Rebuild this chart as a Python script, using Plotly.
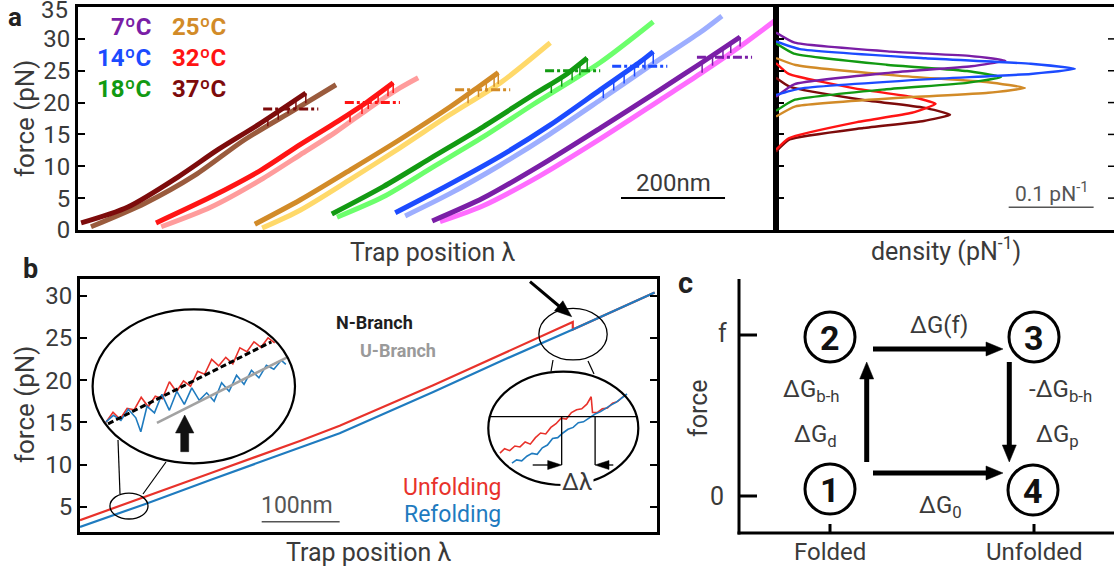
import plotly.graph_objects as go

W, H = 1114, 575
FONT = "Roboto"
INK = "#3a3a3a"

# ---------------- panel a: pulling cycles at six temperatures ----------------
temp_labels = ["7ºC", "14ºC", "18ºC", "25ºC", "32ºC", "37ºC"]
dark_colors = ["#7a1ea6", "#1c4bff", "#129a12", "#d28b28", "#ff1414", "#7d0b0b"]
light_colors = ["#ff6cff", "#9daeff", "#6cff6c", "#ffd96a", "#ff9c9c", "#9a5b3d"]

# unfolding (dark) and refolding (light) traces: trap position (nm), force (pN)
unf07_nm = [681, 779, 888, 1004, 1119, 1196, 1273]
unf07_pN = [1.4, 5.0, 10.1, 16.0, 22.0, 26.1, 30.3]
ref07_nm = [696, 779, 888, 1004, 1119, 1196, 1273, 1342]
ref07_pN = [1.3, 3.8, 8.5, 14.3, 20.4, 24.5, 28.8, 33.0]
hop07_nm = [1200, 1220, 1240, 1255, 1273]
hop07_hi = [26.3, 27.4, 28.5, 29.3, 30.3]
hop07_lo = [24.7, 25.8, 26.9, 27.8, 28.8]

unf14_nm = [610, 683, 812, 908, 1004, 1081, 1106]
unf14_pN = [2.7, 5.8, 11.6, 16.5, 22.0, 26.4, 28.0]
ref14_nm = [629, 715, 812, 908, 1004, 1100, 1196, 1238]
ref14_pN = [2.2, 5.7, 10.2, 15.1, 20.4, 25.8, 31.0, 33.6]
hop14_nm = [1010, 1030, 1050, 1070, 1090, 1106]
hop14_hi = [22.3, 23.5, 24.6, 25.8, 26.9, 28.0]
hop14_lo = [20.7, 21.9, 23.0, 24.1, 25.2, 26.1]

unf18_nm = [488, 587, 683, 779, 875, 940, 979]
unf18_pN = [2.5, 6.8, 11.5, 16.2, 21.2, 24.5, 27.0]
ref18_nm = [498, 587, 683, 779, 875, 1004, 1106]
ref18_pN = [2.0, 5.2, 9.9, 14.6, 19.7, 26.3, 32.7]
hop18_nm = [910, 930, 950, 965, 979]
hop18_hi = [23.0, 24.0, 25.1, 26.1, 27.0]
hop18_lo = [21.5, 22.5, 23.5, 24.3, 25.0]

unf25_nm = [340, 427, 523, 619, 715, 767, 808]
unf25_pN = [0.9, 4.7, 9.4, 14.2, 19.3, 22.3, 24.7]
ref25_nm = [354, 427, 523, 619, 715, 812, 908]
ref25_pN = [0.3, 3.1, 7.9, 12.9, 18.1, 23.1, 29.4]
hop25_nm = [750, 770, 785, 800, 808]
hop25_hi = [21.3, 22.5, 23.35, 24.2, 24.7]
hop25_lo = [19.9, 20.9, 21.7, 22.5, 22.9]

unf32_nm = [150, 256, 352, 427, 500, 556, 606]
unf32_pN = [1.1, 5.2, 9.4, 13.4, 17.1, 20.1, 23.1]
ref32_nm = [160, 256, 352, 427, 496, 556, 619, 654]
ref32_pN = [0.5, 3.6, 7.9, 11.8, 15.4, 18.9, 22.3, 23.9]
hop32_nm = [523, 546, 558, 577, 596, 606]
hop32_hi = [18.3, 19.6, 20.2, 21.4, 22.5, 23.1]
hop32_lo = [16.9, 18.2, 19.0, 20.0, 21.0, 21.5]

unf37_nm = [6, 96, 192, 269, 346, 438]
unf37_pN = [1.1, 3.6, 8.3, 12.6, 16.5, 21.5]
ref37_nm = [25, 129, 225, 321, 417, 496]
ref37_pN = [0.5, 4.2, 8.6, 14.2, 18.9, 22.8]
hop37_nm = [365, 385, 404, 419, 438]
hop37_hi = [17.5, 18.6, 19.6, 20.5, 21.5]
hop37_lo = [16.3, 17.3, 18.3, 19.0, 19.9]

# mean unfolding force (pN) and the trap-position span of each marker
mean_force = [27.1, 25.7, 25.0, 22.0, 20.0, 19.0]
mean_from_nm = [1190, 1027, 898, 725, 513, 356]
mean_to_nm = [1296, 1133, 1004, 831, 619, 462]

# rupture-force densities (pN^-1) against force (pN)
dens07_pN = [31.0, 29.4, 28.0, 27.3, 26.6, 25.7, 24.7, 22.9, 20.9]
dens07_val = [0, 0.022, 0.135, 0.23, 0.27, 0.23, 0.135, 0.022, 0]
dens14_pN = [29.6, 28.4, 26.95, 26.1, 25.3, 24.5, 23.65, 22.2, 21.2]
dens14_val = [0, 0.028, 0.176, 0.30, 0.352, 0.30, 0.176, 0.028, 0]
dens18_pN = [29.3, 27.7, 25.95, 24.95, 24.0, 23.1, 22.1, 20.4, 18.7]
dens18_val = [0, 0.021, 0.13, 0.225, 0.265, 0.225, 0.13, 0.021, 0]
dens25_pN = [27.0, 25.9, 24.2, 23.2, 22.3, 21.55, 20.75, 19.4, 17.8]
dens25_val = [0, 0.023, 0.146, 0.25, 0.293, 0.25, 0.146, 0.023, 0]
dens32_pN = [26.2, 24.5, 22.2, 20.9, 19.8, 18.4, 16.9, 14.4, 12.6]
dens32_val = [0, 0.015, 0.094, 0.16, 0.188, 0.16, 0.094, 0.015, 0]
dens37_pN = [23.9, 22.5, 20.4, 19.2, 18.1, 17.1, 16.0, 14.2, 12.3]
dens37_val = [0, 0.016, 0.103, 0.174, 0.205, 0.174, 0.103, 0.016, 0]

force_ticks_a = [0, 5, 10, 15, 20, 25, 30]
force_top_a = 35
dens_ticks = [5, 10, 15, 20, 25, 30]

# ---------------- panel b: one cycle with zoomed details ----------------
b_unf_nm = [0, 83, 168, 282, 333, 453, 538, 632, 632, 737]
b_unf_pN = [3.4, 6.2, 9.0, 12.8, 14.6, 19.4, 23.0, 26.9, 26.0, 30.4]
b_ref_nm = [0, 83, 168, 282, 333, 453, 538, 632, 737]
b_ref_pN = [2.6, 5.3, 8.2, 12.0, 13.7, 18.6, 22.2, 26.0, 30.4]
force_ticks_b = [5, 10, 15, 20, 25, 30]

# low-force detail (N-branch vs U-branch)
zl_unf_nm = [41.6, 43.3, 45.0, 46.7, 48.4, 50.1, 51.8, 53.5, 55.2, 56.9, 58.6, 60.3, 62.0,
             63.7, 65.4, 67.1, 68.8, 70.5, 72.2, 73.9, 75.6, 77.3, 79.0, 80.7, 82.3]
zl_unf_pN = [4.36, 4.56, 4.42, 4.64, 4.61, 4.86, 4.67, 4.88, 4.83, 5.17, 4.97, 5.19, 5.08,
             5.38, 5.32, 5.62, 5.49, 5.66, 5.53, 5.85, 5.77, 5.97, 5.86, 6.05, 5.95]
zl_ref_nm = [41.6, 43.4, 45.2, 47.0, 48.8, 50.0, 51.5, 53.3, 55.1, 56.9, 58.7, 60.5, 62.3,
             64.1, 65.9, 67.7, 69.5, 71.3, 73.1, 74.9, 76.7, 78.5, 80.3, 82.1, 83.9, 85.0]
zl_ref_pN = [4.37, 4.50, 4.40, 4.62, 4.45, 4.17, 4.68, 4.55, 4.92, 4.60, 4.98, 4.72, 5.05,
             4.80, 4.95, 4.78, 5.15, 4.98, 5.30, 5.12, 5.40, 5.25, 5.50, 5.42, 5.60, 5.52]
n_branch_nm = [42.1, 81.5]
n_branch_pN = [4.33, 5.97]
u_branch_nm = [53.9, 85.3]
u_branch_pN = [4.35, 5.66]

# rupture detail
zr_unf_nm = [595.3, 598, 601, 604, 607, 610, 613, 616, 619, 622, 625, 628, 631, 634, 637,
             640, 643, 646, 648.5, 649.3, 652, 655, 658, 661, 664, 667]
zr_unf_pN = [24.12, 24.35, 24.25, 24.5, 24.45, 24.72, 24.6, 24.95, 25.2, 25.15, 25.5, 25.7,
             26.0, 25.95, 26.3, 26.45, 26.5, 26.75, 27.15, 26.3, 26.3, 26.5, 26.55, 26.8,
             26.9, 27.15]
zr_ref_nm = [602.3, 605, 608, 611, 614, 617, 620, 623, 626, 629, 632, 635, 638, 641, 644,
             647, 650.8, 654, 657, 660, 663, 666, 669.4]
zr_ref_pN = [23.58, 23.75, 23.7, 23.95, 24.1, 24.05, 24.4, 24.55, 24.9, 24.95, 25.2, 25.4,
             25.5, 25.75, 25.8, 26.0, 26.22, 26.35, 26.55, 26.7, 26.85, 27.05, 27.3]
rupture_level_pN = 26.08
dlambda_nm = [631.3, 650.8]

RED_B = "#e8322b"
BLUE_B = "#1f7bbf"


def X(p):
    return p / W


def Y(p):
    return 1 - p / H


fig = go.Figure()

unf_nm = [unf07_nm, unf14_nm, unf18_nm, unf25_nm, unf32_nm, unf37_nm]
unf_pN = [unf07_pN, unf14_pN, unf18_pN, unf25_pN, unf32_pN, unf37_pN]
ref_nm = [ref07_nm, ref14_nm, ref18_nm, ref25_nm, ref32_nm, ref37_nm]
ref_pN = [ref07_pN, ref14_pN, ref18_pN, ref25_pN, ref32_pN, ref37_pN]
hop_nm = [hop07_nm, hop14_nm, hop18_nm, hop25_nm, hop32_nm, hop37_nm]
hop_hi = [hop07_hi, hop14_hi, hop18_hi, hop25_hi, hop32_hi, hop37_hi]
hop_lo = [hop07_lo, hop14_lo, hop18_lo, hop25_lo, hop32_lo, hop37_lo]
dens_pN = [dens07_pN, dens14_pN, dens18_pN, dens25_pN, dens32_pN, dens37_pN]
dens_val = [dens07_val, dens14_val, dens18_val, dens25_val, dens32_val, dens37_val]

for i in range(6):
    fig.add_trace(go.Scatter(x=ref_nm[i], y=ref_pN[i], mode="lines",
                             line=dict(color=light_colors[i], width=5, shape="spline", smoothing=0.8),
                             xaxis="x", yaxis="y", showlegend=False, hoverinfo="skip"))
    fig.add_trace(go.Scatter(x=unf_nm[i], y=unf_pN[i], mode="lines",
                             line=dict(color=dark_colors[i], width=5, shape="spline", smoothing=0.8),
                             xaxis="x", yaxis="y", showlegend=False, hoverinfo="skip"))
    hx, hy = [], []
    for xv, hi, lo in zip(hop_nm[i], hop_hi[i], hop_lo[i]):
        hx += [xv, xv, None]
        hy += [lo, hi, None]
    fig.add_trace(go.Scatter(x=hx, y=hy, mode="lines",
                             line=dict(color=dark_colors[i], width=1.5),
                             xaxis="x", yaxis="y", showlegend=False, hoverinfo="skip"))
    fig.add_trace(go.Scatter(x=[mean_from_nm[i], mean_to_nm[i]], y=[mean_force[i]] * 2, mode="lines",
                             line=dict(color=dark_colors[i], width=3, dash="9px,3px,3px,3px"),
                             xaxis="x", yaxis="y", showlegend=False, hoverinfo="skip"))

for i in [5, 4, 3, 2, 0, 1]:
    fig.add_trace(go.Scatter(x=dens_val[i], y=dens_pN[i], mode="lines",
                             line=dict(color=dark_colors[i], width=2.4, shape="spline", smoothing=0.45),
                             xaxis="x2", yaxis="y2", showlegend=False, hoverinfo="skip"))

# panel b traces
fig.add_trace(go.Scatter(x=b_unf_nm, y=b_unf_pN, mode="lines", line=dict(color=RED_B, width=2.2),
                         xaxis="x3", yaxis="y3", showlegend=False, hoverinfo="skip"))
fig.add_trace(go.Scatter(x=b_ref_nm, y=b_ref_pN, mode="lines", line=dict(color=BLUE_B, width=2.2),
                         xaxis="x3", yaxis="y3", showlegend=False, hoverinfo="skip"))

fig.add_trace(go.Scatter(x=zl_unf_nm, y=zl_unf_pN, mode="lines", line=dict(color=RED_B, width=1.6),
                         xaxis="x4", yaxis="y4", showlegend=False, hoverinfo="skip"))
fig.add_trace(go.Scatter(x=zl_ref_nm, y=zl_ref_pN, mode="lines", line=dict(color=BLUE_B, width=1.6),
                         xaxis="x4", yaxis="y4", showlegend=False, hoverinfo="skip"))
fig.add_trace(go.Scatter(x=u_branch_nm, y=u_branch_pN, mode="lines", line=dict(color="#a2a2a2", width=2.6),
                         xaxis="x4", yaxis="y4", showlegend=False, hoverinfo="skip"))
fig.add_trace(go.Scatter(x=n_branch_nm, y=n_branch_pN, mode="lines",
                         line=dict(color="black", width=3, dash="6px,3px"),
                         xaxis="x4", yaxis="y4", showlegend=False, hoverinfo="skip"))

fig.add_trace(go.Scatter(x=zr_unf_nm, y=zr_unf_pN, mode="lines", line=dict(color=RED_B, width=1.6),
                         xaxis="x5", yaxis="y5", showlegend=False, hoverinfo="skip"))
fig.add_trace(go.Scatter(x=zr_ref_nm, y=zr_ref_pN, mode="lines", line=dict(color=BLUE_B, width=1.6),
                         xaxis="x5", yaxis="y5", showlegend=False, hoverinfo="skip"))

shapes = []
annotations = []


def line_px(x0, y0, x1, y1, w=1.5, color="black"):
    shapes.append(dict(type="line", xref="paper", yref="paper", x0=X(x0), y0=Y(y0), x1=X(x1), y1=Y(y1),
                       line=dict(color=color, width=w)))


def arrow_px(x0, y0, x1, y1, w, head_len, head_w, color="black"):
    dx, dy = x1 - x0, y1 - y0
    L = (dx * dx + dy * dy) ** 0.5
    ux, uy = dx / L, dy / L
    bx, by = x1 - ux * head_len, y1 - uy * head_len
    line_px(x0, y0, bx + ux * 1.5, by + uy * 1.5, w, color)
    nx, ny = -uy, ux
    pts = [(x1, y1), (bx + nx * head_w / 2, by + ny * head_w / 2), (bx - nx * head_w / 2, by - ny * head_w / 2)]
    path = "M " + " L ".join(f"{X(a):.5f},{Y(b):.5f}" for a, b in pts) + " Z"
    shapes.append(dict(type="path", xref="paper", yref="paper", path=path,
                       fillcolor=color, line=dict(color=color, width=0.5)))


def ellipse_px(cx, cy, rx, ry, w=1.5):
    shapes.append(dict(type="circle", xref="paper", yref="paper", x0=X(cx - rx), x1=X(cx + rx),
                       y0=Y(cy + ry), y1=Y(cy - ry), line=dict(color="black", width=w),
                       fillcolor="rgba(0,0,0,0)", layer="above"))


def text_px(x, y, s, size=24, color=INK, xanchor="center", yanchor="middle", angle=0, bg=None, height=None):
    a = dict(xref="paper", yref="paper", x=X(x), y=Y(y), text=s, showarrow=False,
             font=dict(family=FONT, size=size, color=color), xanchor=xanchor, yanchor=yanchor,
             textangle=angle)
    if bg:
        a["bgcolor"] = bg
    if height:
        a["height"] = height
    annotations.append(a)


# ---- panel a decorations ----
for xi, (lab, col) in enumerate(zip(temp_labels, dark_colors)):
    row = [0, 1, 2, 0, 1, 2][xi]
    yy = [27, 58, 89][row]
    if xi < 3:
        text_px(153, yy, f"<b>{lab}</b>", size=24, color=col, xanchor="right")
    else:
        text_px(170, yy, f"<b>{lab}</b>", size=24, color=col, xanchor="left")

# top tick label of the force axis sits against the upper page edge
text_px(70, 10, str(force_top_a), size=24, xanchor="right", height=20)

shapes.append(dict(type="line", xref="x", yref="y", x0=1044, x1=1244, y0=5.0, y1=5.0,
                   line=dict(color="black", width=2)))
annotations.append(dict(xref="x", yref="y", x=1144, y=7.4, text="200nm", showarrow=False,
                        font=dict(family=FONT, size=24, color=INK)))
shapes.append(dict(type="line", xref="x2", yref="y2", x0=0.274, x1=0.374, y0=3.57, y1=3.57,
                   line=dict(color="#555555", width=1.5)))
annotations.append(dict(xref="x2", yref="y2", x=0.324, y=5.9, text="0.1 pN<sup>-1</sup>", showarrow=False,
                        font=dict(family=FONT, size=21, color="#555555")))
for t in dens_ticks:
    shapes.append(dict(type="line", xref="paper", yref="y2", x0=X(1108), x1=1.0, y0=t, y1=t,
                       line=dict(color="black", width=1.5)))

text_px(15, 0, "<b>a</b>", size=26, color="#222222", yanchor="top")
text_px(25, 119, "force (pN)", size=26, angle=-90)
text_px(433, 253, "Trap position λ", size=25)
text_px(946, 249, "density (pN<sup>-1</sup>)", size=25)

# ---- panel b decorations ----
text_px(30, 269, "<b>b</b>", size=27, color="#222222")
text_px(25, 405, "force (pN)", size=26, angle=-90)
text_px(369, 552, "Trap position λ", size=25)
text_px(374, 322, "<b>N-Branch</b>", size=18, color="#1e1e1e")
text_px(398, 350, "<b>U-Branch</b>", size=18, color="#9a9a9a")
text_px(452, 487, "Unfolding", size=23, color=RED_B)
text_px(452, 514, "Refolding", size=23, color=BLUE_B)

shapes.append(dict(type="line", xref="x3", yref="y3", x0=233, x1=333, y0=3.22, y1=3.22,
                   line=dict(color="#555555", width=1.5)))
annotations.append(dict(xref="x3", yref="y3", x=278, y=5.1, text="100nm", showarrow=False,
                        font=dict(family=FONT, size=23, color="#555555")))

# small ellipses around the detail regions (data units)
shapes.append(dict(type="circle", xref="x3", yref="y3", x0=62.8 - 24.4, x1=62.8 + 24.4,
                   y0=5.08 - 1.54, y1=5.08 + 1.54, line=dict(color="black", width=1.3)))
shapes.append(dict(type="circle", xref="x3", yref="y3", x0=632.3 - 43.8, x1=632.3 + 43.8,
                   y0=25.46 - 3.06, y1=25.46 + 3.06, line=dict(color="black", width=1.3)))

# magnified ellipses
ellipse_px(193.8, 386.3, 101.2, 77.0, w=2.2)
ellipse_px(563.3, 428.3, 75.0, 56.7, w=2.2)
line_px(118, 440, 120, 494, 1.2)
line_px(166, 462, 143, 494, 1.2)
line_px(553, 360, 551, 371.5, 1.2)
line_px(588, 361, 594, 374, 1.2)

# block arrow inside the left detail
blk = [(180.7, 451.7), (188.7, 451.7), (188.7, 433), (193.9, 433), (184.7, 415), (175.5, 433), (180.7, 433)]
shapes.append(dict(type="path", xref="paper", yref="paper",
                   path="M " + " L ".join(f"{X(a):.5f},{Y(b):.5f}" for a, b in blk) + " Z",
                   fillcolor="#111111", line=dict(color="#111111", width=0.5)))

# rupture construction inside the right detail
shapes.append(dict(type="line", xref="x5", yref="y5", x0=588.9, x1=675.6,
                   y0=rupture_level_pN, y1=rupture_level_pN, line=dict(color="black", width=1.3)))
for xv in dlambda_nm:
    shapes.append(dict(type="line", xref="x5", yref="y5", x0=xv, x1=xv, y0=23.48, y1=rupture_level_pN,
                       line=dict(color="black", width=1.3)))
arrow_px(532.7, 465, 561.7, 465, 1.3, 14, 9)
arrow_px(613.3, 465, 595, 465, 1.3, 14, 9)
text_px(577, 482, "Δλ", size=24, bg="white")
arrow_px(530, 281.7, 571.7, 316.7, 3, 17, 13)

# ---- panel c: thermodynamic cycle ----
line_px(739, 279, 739, 534.5, 3)
line_px(737.5, 533, 1114, 533, 3)
line_px(739, 335, 757, 335, 3)
line_px(739, 496, 757, 496, 3)
line_px(830, 524, 830, 533, 3)
line_px(1034, 524, 1034, 533, 3)
text_px(685, 283, "<b>c</b>", size=29, color="#222222")
text_px(722, 333, "f", size=25)
text_px(717, 496, "0", size=25)
text_px(699, 408, "force", size=25, angle=-90)
text_px(830, 552, "Folded", size=24)
text_px(1034, 552, "Unfolded", size=24)

for (cx, cy, d) in [(830, 489, "1"), (830, 337, "2"), (1034, 337, "3"), (1033, 490, "4")]:
    ellipse_px(cx, cy, 25, 25, w=3)
    text_px(cx, cy + 1, f"<b>{d}</b>", size=34, color="#111111")

arrow_px(873, 349, 1003, 349, 5, 17, 14)
arrow_px(873, 473, 1003, 473, 5, 17, 14)
arrow_px(866.7, 462, 866.7, 362, 5, 17, 14)
arrow_px(1009.3, 362, 1009.3, 462, 5, 17, 14)

text_px(939, 325, "ΔG(f)", size=24)
text_px(811, 390, "ΔG<sub>b-h</sub>", size=24)
text_px(815, 435, "ΔG<sub>d</sub>", size=24)
text_px(1060, 390, "-ΔG<sub>b-h</sub>", size=24)
text_px(1057, 435, "ΔG<sub>p</sub>", size=24)
text_px(940, 506, "ΔG<sub>0</sub>", size=24)

tickfont = dict(family=FONT, size=24, color=INK)
common = dict(showgrid=False, zeroline=False)

fig.update_layout(
    width=W, height=H, margin=dict(l=0, r=0, t=0, b=0, autoexpand=False),
    paper_bgcolor="white", plot_bgcolor="rgba(0,0,0,0)",
    shapes=shapes, annotations=annotations,
    xaxis=dict(domain=[X(78), X(776)], range=[0, 1342], showline=True, linecolor="black", linewidth=3,
               mirror=True, showticklabels=False, ticks="", anchor="y", **common),
    yaxis=dict(domain=[Y(230), Y(7)], range=[-0.01, 35.01], tickvals=force_ticks_a, ticks="inside", ticklen=7,
               tickwidth=1.5, tickcolor="black", showline=True, linecolor="black", linewidth=3, mirror=True,
               tickfont=tickfont, anchor="x", **common),
    xaxis2=dict(domain=[X(776), 1.0], range=[0, 0.398], showline=True, linecolor="black", linewidth=3,
                mirror=True, showticklabels=False, ticks="", anchor="y2", **common),
    yaxis2=dict(domain=[Y(230), Y(7)], range=[-0.01, 35.01], tickvals=dens_ticks, ticks="inside",
                ticklen=8, tickwidth=1.5, tickcolor="black", showline=True, linecolor="black", linewidth=3,
                showticklabels=False, anchor="x2", **common),
    xaxis3=dict(domain=[X(80), X(657)], range=[0, 740], showline=True, linecolor="black", linewidth=3,
                mirror=True, showticklabels=False, ticks="", anchor="y3", **common),
    yaxis3=dict(domain=[Y(532), Y(279)], range=[2, 32], tickvals=force_ticks_b, ticks="inside", ticklen=7,
                tickwidth=1.5, tickcolor="black", showline=True, linecolor="black", linewidth=3,
                mirror="ticks", tickfont=tickfont, anchor="x3", **common),
    xaxis4=dict(domain=[X(92.7), X(295)], range=[38.4, 87.2], visible=False, anchor="y4", **common),
    yaxis4=dict(domain=[Y(463.3), Y(309.3)], range=[3.54, 6.62], visible=False, anchor="x4", **common),
    xaxis5=dict(domain=[X(488.3), X(638.3)], range=[588.5, 676], visible=False, anchor="y5", **common),
    yaxis5=dict(domain=[Y(485), Y(371.7)], range=[22.4, 28.5], visible=False, anchor="x5", **common),
)

fig.write_html("out.html")
